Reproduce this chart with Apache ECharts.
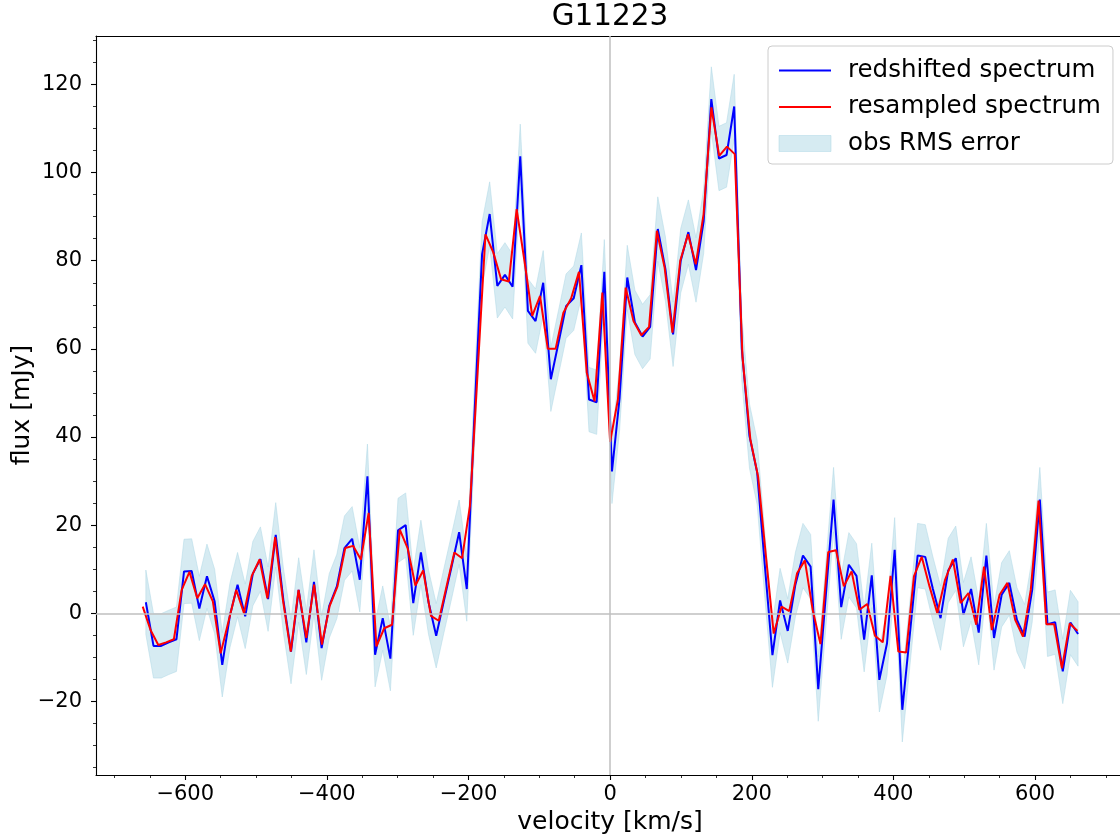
<!DOCTYPE html>
<html><head><meta charset="utf-8">
<script src="https://cdn.jsdelivr.net/npm/echarts@6/dist/echarts.min.js"></script>
<style>html,body{margin:0;padding:0;background:#fff}#c{width:1120px;height:839px}</style>
</head><body><div id="c"></div>
<script>
const chartTitle = 'G11223';
const xAxisTitle = 'velocity [km/s]';
const yAxisTitle = 'flux [mJy]';
const seriesNames = ['redshifted spectrum', 'resampled spectrum', 'obs RMS error'];
const xTicks = [-600, -400, -200, 0, 200, 400, 600];
const xMinorTicks = [-700,-650,-600,-550,-500,-450,-400,-350,-300,-250,-200,-150,-100,-50,0,50,100,150,200,250,300,350,400,450,500,550,600,650,700];
const yTicks = [-20, 0, 20, 40, 60, 80, 100, 120];
const yMinorTicks = [-35,-30,-25,-20,-15,-10,-5,0,5,10,15,20,25,30,35,40,45,50,55,60,65,70,75,80,85,90,95,100,105,110,115,120,125,130];

// redshifted spectrum (observed channels)
const blueVelocity = [-655.6,-644.8,-634.0,-623.2,-612.4,-601.7,-590.9,-580.1,-569.3,-558.5,
-547.7,-536.9,-526.1,-515.3,-504.5,-493.8,-483.0,-472.2,-461.4,-450.6,
-439.8,-429.0,-418.2,-407.4,-396.6,-385.9,-375.1,-364.3,-353.5,-342.7,
-331.9,-321.1,-310.3,-299.5,-288.7,-278.0,-267.2,-256.4,-245.6,-234.8,
-224.0,-213.2,-202.4,-191.6,-180.8,-170.1,-159.3,-148.5,-137.7,-126.9,
-116.1,-105.3,-94.5,-83.7,-72.9,-62.2,-51.4,-40.6,-29.8,-19.0,
-8.2,2.6,13.4,24.2,35.0,45.8,56.5,67.3,78.1,88.9,
99.7,110.5,121.3,132.1,142.9,153.7,164.4,175.2,186.0,196.8,
207.6,218.4,229.2,240.0,250.8,261.6,272.3,283.1,293.9,304.7,
315.5,326.3,337.1,347.9,358.7,369.5,380.2,391.0,401.8,412.6,
423.4,434.2,445.0,455.8,466.6,477.4,488.1,498.9,509.7,520.5,
531.3,542.1,552.9,563.7,574.5,585.3,596.0,606.8,617.6,628.4,
639.2,650.0,660.8];
const blueFlux = [2.5,-7.4,-7.4,-6.6,-5.9,9.5,9.6,1.1,8.4,2.7,
-11.7,-0.5,6.5,-0.7,9.0,12.3,3.2,17.8,3.0,-8.7,
5.3,-6.6,7.1,-7.9,1.7,6.1,14.8,16.9,7.6,31.1,
-9.4,-1.1,-10.3,18.8,20.0,2.3,13.8,2.5,-5.1,2.8,
10.5,18.4,5.5,45.0,81.5,90.6,74.3,76.8,74.1,103.7,
68.6,66.3,75.0,53.1,61.4,69.7,71.5,79.0,48.5,47.9,
77.5,32.2,48.9,76.2,66.0,62.8,65.0,87.2,78.1,63.3,
80.0,86.5,77.9,89.0,116.7,103.2,104.0,115.0,60.0,40.2,
32.0,11.0,-9.5,2.9,-4.0,6.5,13.1,10.6,-17.2,4.3,
25.8,1.4,11.0,8.5,-6.0,8.6,-15.1,-6.8,14.4,-21.9,
-4.5,13.1,12.8,5.5,-1.1,9.7,12.5,-0.3,5.5,-4.4,
13.1,-5.6,4.2,6.9,-1.5,-5.3,5.3,25.8,-2.5,-2.0,
-13.2,-2.1,-4.7];

// resampled spectrum
const redVelocity = [-660,-649,-638,-627,-616,-605,-594,-583,-572,-561,
-550,-539,-528,-517,-506,-495,-484,-473,-462,-451,
-440,-429,-418,-407,-396,-385,-374,-363,-352,-341,
-330,-319,-308,-297,-286,-275,-264,-253,-242,-231,
-220,-209,-198,-187,-176,-165,-154,-143,-132,-121,
-110,-99,-88,-77,-66,-55,-44,-33,-22,-11,
0,11,22,33,44,55,66,77,88,99,
110,121,132,143,154,165,176,187,198,209,
220,231,242,253,264,275,286,297,308,319,
330,341,352,363,374,385,396,407,418,429,
440,451,462,473,484,495,506,517,528,539,
550,561,572,583,594,605,616,627,638,649,
660];
const redFlux = [1.5,-3.8,-7.2,-6.6,-5.9,5.3,9.4,3.4,6.6,2.7,
-9.1,-1.9,5.3,0.0,8.5,12.2,3.4,17.3,3.0,-8.7,
5.3,-5.6,6.5,-7.1,1.7,6.1,14.8,15.3,12.2,22.8,
-7.5,-3.4,-2.6,19.0,14.8,6.3,9.7,-0.6,-1.7,6.1,
13.8,12.5,24.3,55.0,86.0,81.9,75.8,75.3,91.7,80.0,
67.5,72.0,60.0,60.0,68.2,71.5,77.5,54.6,48.1,72.8,
38.9,48.5,73.9,66.3,63.1,65.0,86.8,78.4,63.7,80.0,
86.0,79.2,90.6,114.8,103.8,105.9,104.2,58.0,39.5,31.0,
13.0,-4.6,1.5,0.5,9.1,12.0,0.8,-7.0,13.9,14.3,
6.1,9.5,0.8,2.1,-5.1,-6.6,8.5,-8.7,-8.9,8.4,
12.8,6.1,0.0,7.6,12.2,2.3,4.6,-2.6,10.6,-3.8,
4.2,6.9,-1.5,-5.3,5.3,25.6,-2.5,-2.5,-12.5,-2.3,
-4.0];

// observed RMS error (constant per channel), band = redshifted spectrum +/- rms
const rmsError = 7.3;

const FONT = 'DejaVu Sans';
const BAND = 'rgba(173,216,230,0.5)';
const X_MIN = -726, X_MAX = 720, Y_MIN = -36.7, Y_MAX = 131.0;
const fmt = v => String(v).replace('-', '\u2212');

const chart = echarts.init(document.getElementById('c'), null, {renderer: 'canvas', width: 1120, height: 839});

const axisLineStyle = {color: '#000', width: 1.1};
const baseX = {type: 'value', min: X_MIN, max: X_MAX, splitLine: {show: false}, gridIndex: 0};
const baseY = {type: 'value', min: Y_MIN, max: Y_MAX, splitLine: {show: false}, gridIndex: 0};

const option = {
  animation: false,
  backgroundColor: '#fff',
  textStyle: {fontFamily: FONT},
  grid: {left: 96, right: 0, top: 36, bottom: 64, containLabel: false, show: false},
  xAxis: [
    Object.assign({}, baseX, {position: 'bottom',
      axisLine: {show: true, onZero: false, lineStyle: axisLineStyle},
      axisTick: {show: true, customValues: xTicks, length: 5, lineStyle: axisLineStyle},
      axisLabel: {show: true, customValues: xTicks, formatter: fmt, fontFamily: FONT, fontSize: 21, color: '#000', margin: 9}}),
    Object.assign({}, baseX, {position: 'bottom',
      axisLine: {show: false, onZero: false},
      axisTick: {show: true, customValues: xMinorTicks, length: 3, lineStyle: {color: '#000', width: 0.8}},
      axisLabel: {show: false}}),
    Object.assign({}, baseX, {position: 'top',
      axisLine: {show: true, onZero: false, lineStyle: axisLineStyle},
      axisTick: {show: false}, axisLabel: {show: false}})
  ],
  yAxis: [
    Object.assign({}, baseY, {position: 'left',
      axisLine: {show: true, onZero: false, lineStyle: axisLineStyle},
      axisTick: {show: true, customValues: yTicks, length: 5, lineStyle: axisLineStyle},
      axisLabel: {show: true, customValues: yTicks, formatter: fmt, fontFamily: FONT, fontSize: 21, color: '#000', margin: 14}}),
    Object.assign({}, baseY, {position: 'left',
      axisLine: {show: false, onZero: false},
      axisTick: {show: true, customValues: yMinorTicks, length: 3, lineStyle: {color: '#000', width: 0.8}},
      axisLabel: {show: false}})
  ],
  legend: {
    orient: 'vertical', left: 768, top: 46,
    padding: [12, 12, 8, 10], itemGap: 11.5, itemWidth: 52, itemHeight: 16,
    backgroundColor: 'rgba(255,255,255,0.8)', borderColor: '#cccccc', borderWidth: 1, borderRadius: 4,
    textStyle: {fontFamily: FONT, fontSize: 24.5, color: '#000', padding: [0, 0, 0, 12], lineHeight: 24.5},
    data: [
      {name: seriesNames[0], itemStyle: {opacity: 0}, lineStyle: {color: '#0000ff', width: 2}},
      {name: seriesNames[1], itemStyle: {opacity: 0}, lineStyle: {color: '#ff0000', width: 2}},
      {name: seriesNames[2], icon: 'rect', itemStyle: {color: BAND, borderColor: BAND, borderWidth: 1}}
    ]
  },
  graphic: [
    {type: 'text', x: 610, y: 17, z: 10, style: {text: chartTitle, font: '29.5px "DejaVu Sans"', fill: '#000', align: 'center', verticalAlign: 'middle'}},
    {type: 'text', x: 610, y: 822, z: 10, style: {text: xAxisTitle, font: '25px "DejaVu Sans"', fill: '#000', align: 'center', verticalAlign: 'middle'}},
    {type: 'text', x: 22, y: 405, rotation: Math.PI / 2, z: 10, style: {text: yAxisTitle, font: '25px "DejaVu Sans"', fill: '#000', align: 'center', verticalAlign: 'middle'}}
  ],
  series: [
    {
      type: 'custom', name: seriesNames[2], xAxisIndex: 0, yAxisIndex: 0, z: 1, silent: true,
      itemStyle: {color: BAND},
      data: [[0, 0]],
      renderItem: function (params, api) {
        const upper = blueVelocity.map((v, i) => api.coord([v, blueFlux[i] + rmsError]));
        const lower = blueVelocity.map((v, i) => api.coord([v, blueFlux[i] - rmsError])).reverse();
        return {type: 'polygon', shape: {points: upper.concat(lower)}, style: {fill: BAND, stroke: BAND, lineWidth: 1}};
      }
    },
    {
      type: 'line', name: 'zero', xAxisIndex: 0, yAxisIndex: 0, z: 2, data: [], silent: true,
      markLine: {silent: true, symbol: ['none', 'none'], animation: false, label: {show: false},
        lineStyle: {color: '#bfbfbf', width: 1.5, type: 'solid'},
        data: [{yAxis: 0}, {xAxis: 0}]}
    },
    {
      type: 'line', name: seriesNames[0], xAxisIndex: 0, yAxisIndex: 0, z: 3,
      data: blueVelocity.map((v, i) => [v, blueFlux[i]]),
      showSymbol: false, symbol: 'none',
      lineStyle: {color: '#0000ff', width: 2}, itemStyle: {color: '#0000ff'}
    },
    {
      type: 'line', name: seriesNames[1], xAxisIndex: 0, yAxisIndex: 0, z: 4,
      data: redVelocity.map((v, i) => [v, redFlux[i]]),
      showSymbol: false, symbol: 'none',
      lineStyle: {color: '#ff0000', width: 2}, itemStyle: {color: '#ff0000'}
    }
  ]
};
chart.setOption(option);
</script>
</body></html>
